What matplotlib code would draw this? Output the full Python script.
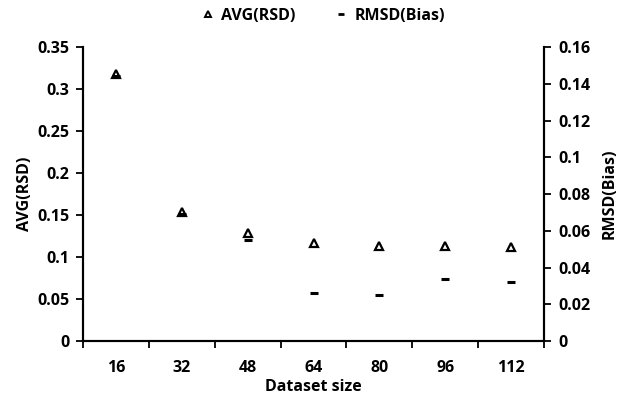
import numpy as np
import matplotlib.pyplot as plt
from matplotlib.lines import Line2D

plt.rcParams['font.family'] = ['Open Sans', 'DejaVu Sans']

# dataset sizes and the two series
sizes = ['16', '32', '48', '64', '80', '96', '112']
avg_rsd = [0.318, 0.154, 0.129, 0.117, 0.113, 0.113, 0.112]
rmsd_bias = [0.144, 0.069, 0.055, 0.026, 0.025, 0.034, 0.032]

x = np.arange(len(sizes))

fig = plt.figure(figsize=(6.29, 4.01), dpi=100)
ax = fig.add_axes([0.132, 0.1496, 0.733, 0.7332])
ax2 = ax.twinx()

ax.plot(x, avg_rsd, linestyle='none', marker='^', markersize=5.5,
        markerfacecolor='white', markeredgecolor='black', markeredgewidth=1.6, zorder=3)
ax2.plot(x, rmsd_bias, linestyle='none', marker='_', markersize=6,
         color='black', markeredgewidth=2.2, zorder=2)

ax.set_xlim(-0.5, len(sizes) - 0.5)
ax.set_ylim(0, 0.35)
ax2.set_ylim(0, 0.16)

ax.set_yticks(np.arange(0, 0.351, 0.05))
ax.set_yticklabels(['0', '0.05', '0.1', '0.15', '0.2', '0.25', '0.3', '0.35'])
ax2.set_yticks(np.arange(0, 0.161, 0.02))
ax2.set_yticklabels(['0', '0.02', '0.04', '0.06', '0.08', '0.1', '0.12', '0.14', '0.16'])

ax.set_xticks(x)
ax.set_xticklabels(sizes)
ax.set_xticks(np.arange(-0.5, len(sizes)), minor=True)
ax.tick_params(axis='x', which='major', length=0, pad=14)
ax.tick_params(axis='x', which='minor', length=5, width=1.3, direction='out')
ax.tick_params(axis='y', length=5, width=1.3, direction='out', pad=5)
ax2.tick_params(axis='y', length=5, width=1.3, direction='out', pad=5)

for a in (ax, ax2):
    for s in a.spines.values():
        s.set_linewidth(1.5)
    a.spines['top'].set_visible(False)
    for lbl in a.get_xticklabels() + a.get_yticklabels():
        lbl.set_fontweight('bold')
        lbl.set_fontsize(11.5)

ax.set_xlabel('Dataset size', fontsize=11.5, fontweight='bold', labelpad=2)
ax.set_ylabel('AVG(RSD)', fontsize=11.5, fontweight='bold', labelpad=3)
ax2.set_ylabel('RMSD(Bias)', fontsize=11.5, fontweight='bold', labelpad=8)

handles = [
    Line2D([], [], linestyle='none', marker='^', markersize=4.5, markerfacecolor='white',
           markeredgecolor='black', markeredgewidth=1.4),
    Line2D([], [], linestyle='none', marker='_', markersize=5, color='black', markeredgewidth=2),
]
fig.legend(handles, ['AVG(RSD)', 'RMSD(Bias)'], loc='center', bbox_to_anchor=(0.515, 0.96),
           ncol=2, frameon=False, handlelength=0.6, handletextpad=0.5, columnspacing=2.6,
           prop={'weight': 'bold', 'size': 11.5})

fig.savefig('out.png', dpi=100)
